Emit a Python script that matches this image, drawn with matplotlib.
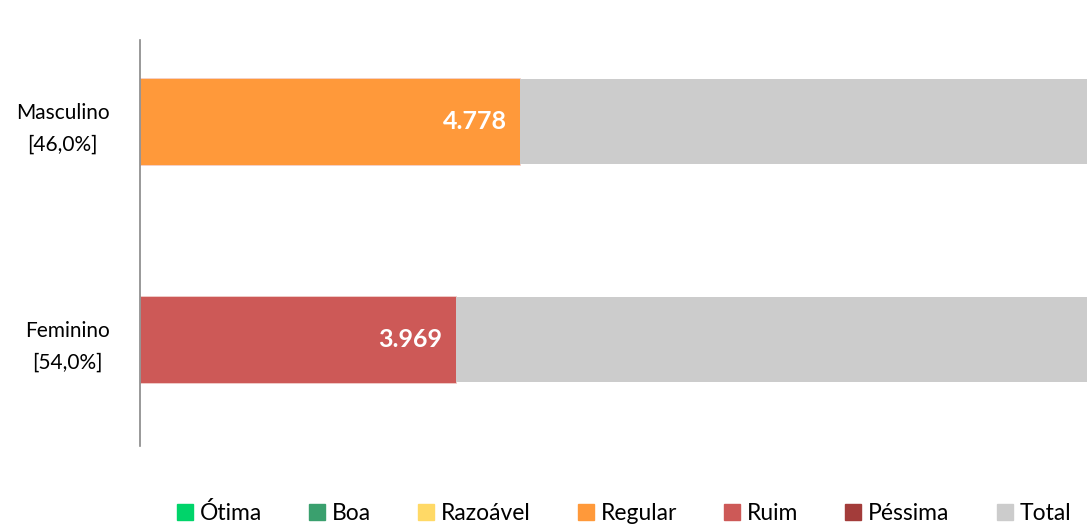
import matplotlib.pyplot as plt
from matplotlib.patches import Patch

plt.rcParams['font.family'] = ['Lato', 'DejaVu Sans']

# dados
categorias = ['Feminino\n[54,0%]', 'Masculino\n[46,0%]']
valores = [3.969, 4.778]
cores_barras = ['#cd5957', '#ff993a']
total = [10, 10]

legenda_nomes = ['Ótima', 'Boa', 'Razoável', 'Regular', 'Ruim', 'Péssima', 'Total']
legenda_cores = ['#00d46a', '#3aa06e', '#ffd966', '#ff993a', '#cd5957', '#a33c3a', '#cccccc']

fig = plt.figure(figsize=(10.87, 5.27), dpi=100)
ax = fig.add_axes([140 / 1087, 1 - 446 / 527, 947 / 1087, 406 / 527])

y = range(len(categorias))
ax.barh(y, valores, height=0.40, color=cores_barras, edgecolor='#f2d0cc', linewidth=0.6)
ax.barh(y, total, left=valores, height=0.39, color='#cccccc')

for yi, v in zip(y, valores):
    ax.text(v - 0.17, yi, f"{v:.3f}", ha='right', va='center',
            color='white', fontsize=18, fontweight='bold')

ax.set_xlim(0, 11.9)
ax.set_ylim(-0.49, 1.372)
ax.set_yticks(list(y))
ax.set_yticklabels(categorias, fontsize=15, linespacing=1.7, multialignment='center')
ax.tick_params(axis='y', length=0, pad=22)
ax.set_xticks([])
for s in ['top', 'right', 'bottom']:
    ax.spines[s].set_visible(False)
ax.spines['left'].set_color('#888888')
ax.spines['left'].set_linewidth(1.2)

handles = [Patch(color=c, label=n) for n, c in zip(legenda_nomes, legenda_cores)]
fig.legend(handles=handles, loc='center', bbox_to_anchor=(624 / 1087, 1 - 513 / 527),
           ncol=7, frameon=False, fontsize=16.5, handlelength=0.7, handleheight=0.7,
           handletextpad=0.3, columnspacing=2.05)

fig.savefig('out.png', dpi=100)
